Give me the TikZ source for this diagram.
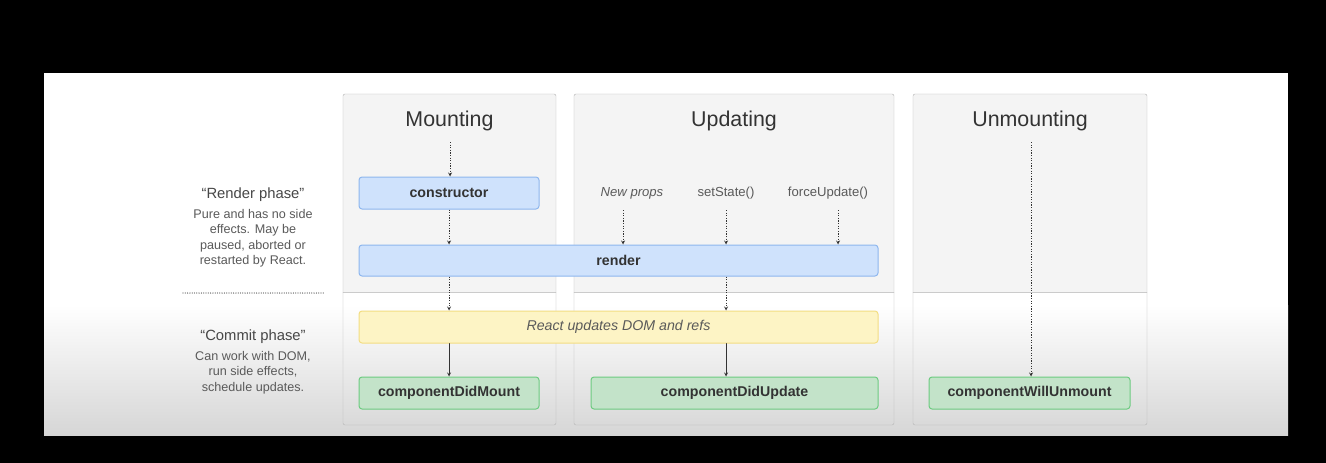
\documentclass[tikz,border=0pt]{standalone}
\usepackage{fontspec}
\setmainfont{Liberation Sans}
\usetikzlibrary{positioning}
\definecolor{ink}{HTML}{333333}
\definecolor{soft}{HTML}{5A5A5A}
\definecolor{phasebg}{HTML}{F4F4F4}
\definecolor{phaseline}{HTML}{B5B5B5}
\definecolor{panelgray}{HTML}{D6D6D6}
\definecolor{bluefill}{HTML}{CFE2FC}
\definecolor{blueline}{HTML}{8DB6EE}
\definecolor{yelfill}{HTML}{FDF4C5}
\definecolor{yelline}{HTML}{F3DD82}
\definecolor{grnfill}{HTML}{C3E3C9}
\definecolor{grnline}{HTML}{6CCB80}
\begin{document}
\begin{tikzpicture}[x=1pt,y=-1pt,>=stealth, line join=round, line cap=round,
	hook/.style={draw, rounded corners=3pt, line width=1pt, inner sep=0pt, minimum height=32pt, text=ink, font=\fontsize{14.2}{17}\selectfont\bfseries},
	renderbox/.style={hook, fill=bluefill, draw=blueline},
	dombox/.style={hook, fill=yelfill, draw=yelline, text=soft, font=\fontsize{14.2}{17}\selectfont\itshape},
	commitbox/.style={hook, fill=grnfill, draw=grnline},
	flow/.style={->, line cap=butt, dash pattern=on 1.2pt off 1.4pt, line width=.8pt, draw=ink},
	sure/.style={->, line width=.8pt, draw=ink},
	phasetitle/.style={text=ink, inner sep=0pt, font=\fontsize{21.4}{25}\selectfont},
	note/.style={text=soft, inner sep=0pt, align=center, font=\fontsize{12.6}{15.3}\selectfont},
	notetitle/.style={text=ink!90, inner sep=0pt, font=\fontsize{14.8}{17}\selectfont},
	trigger/.style={text=soft, inner sep=0pt, font=\fontsize{13.1}{15}\selectfont}]
	% screen and slide
	\useasboundingbox (0,0) rectangle (1326,463);
	\fill[black] (0,0) rectangle (1326,463);
	\fill[white] (44,73) rectangle (1288,435);
	\shade[top color=white, bottom color=panelgray] (44,305) rectangle (1288,435);
	% the three phases
	\foreach \xa/\xb/\name in {343/556/Mounting, 574/894/Updating, 913/1147/Unmounting}{
		\fill[phasebg] (\xa,94) rectangle (\xb,292);
		\draw[phaseline!70] (\xa,292)--(\xb,292);
		\draw[phaseline, rounded corners=2pt] (\xa,94) rectangle (\xb,425);
		\node[phasetitle] (\name) at ({(\xa+\xb)/2},121) {\name};
	}
	% left notes
	\node[notetitle] (rphase) at (253,195) {“Render phase”};
	\node[note, below=7pt of rphase] (rdesc) {Pure and has no side\\effects. May be\\paused, aborted or\\restarted by React.};
	\node[notetitle] (cphase) at (253,337) {“Commit phase”};
	\node[note, below=7pt of cphase] (cdesc) {Can work with DOM,\\run side effects,\\schedule updates.};
	\path (183,293) coordinate (sepL) (325,293) coordinate (sepR);
	\draw[soft, dash pattern=on 0pt off 2.3pt, line width=1.3pt] (sepL)--(sepR);
	% lifecycle boxes
	\node[renderbox, minimum width=180pt] (ctor) at (449,193) {constructor};
	\node[renderbox, minimum width=519pt, minimum height=31pt] (render) at (618.5,260.5) {render};
	\node[dombox, minimum width=519pt] (dom) at (618.5,327) {React updates DOM and refs};
	\node[commitbox, minimum width=180pt] (mount) at (449,393) {componentDidMount};
	\node[commitbox, minimum width=287pt] (update) at (734.5,393) {componentDidUpdate};
	\node[commitbox, minimum width=201pt] (unmount) at (1029.5,393) {componentWillUnmount};
	% arrows
	\path (450,142) coordinate (mtop) (1031,142) coordinate (utop);
	\draw[flow] (mtop)--(mtop |- ctor.north);
	\draw[flow] (ctor.south)--(ctor.south |- render.north);
	\foreach \n/\t/\lx/\ax in {np/\textit{New props}/632/623, ss/setState()/726/726, fu/forceUpdate()/828/838}{
		\node[trigger] (\n) at (\lx,193) {\t};
		\coordinate (\n a) at (\ax,210);
		\draw[flow] (\n a)--(\n a |- render.north);
	}
	\draw[flow] (render.south -| ctor)--(dom.north -| ctor);
	\draw[flow] (render.south -| ssa)--(dom.north -| ssa);
	\draw[sure] (dom.south -| mount)--(mount.north);
	\draw[sure] (dom.south -| ssa)--(ssa |- update.north);
	\draw[flow] (utop)--(utop |- unmount.north);
\end{tikzpicture}
\end{document}
